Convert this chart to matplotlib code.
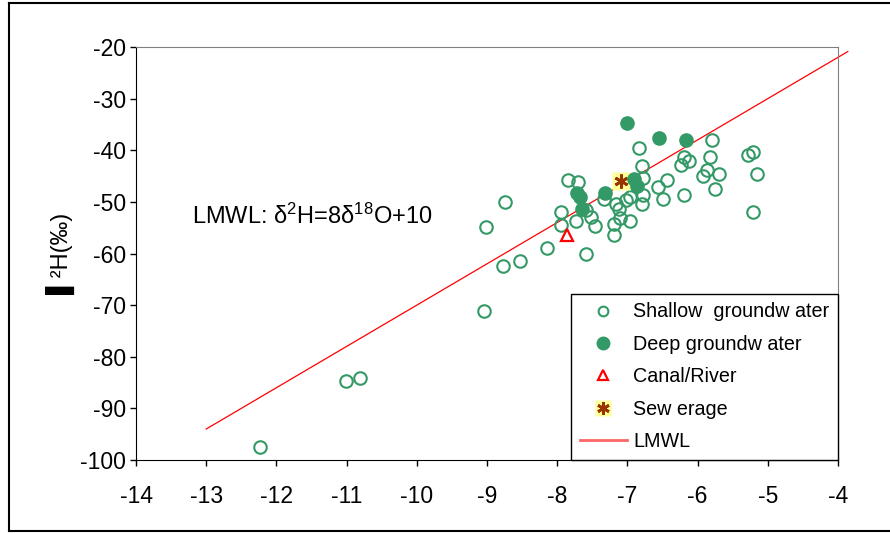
import matplotlib
matplotlib.use("Agg")
import matplotlib.pyplot as plt
from matplotlib.lines import Line2D

plt.rcParams["font.family"] = ["Liberation Sans", "DejaVu Sans"]
plt.rcParams["mathtext.fontset"] = "custom"
plt.rcParams["mathtext.rm"] = "Liberation Sans"
plt.rcParams["mathtext.it"] = "Liberation Sans:italic"
plt.rcParams["axes.unicode_minus"] = False

# delta 18O (x) and delta 2H (y), per mil
shallow_o = [-12.23, -11.01, -10.81, -9.04, -9.01, -8.75, -8.77, -8.53, -8.14,
             -7.94, -7.94, -7.85, -7.70, -7.73, -7.59, -7.52, -7.46, -7.59,
             -7.34, -7.16, -7.12, -7.11, -7.19, -7.19, -6.97, -7.02, -6.96,
             -6.78, -6.79, -6.78, -6.79, -6.84, -6.57, -6.44, -6.50, -6.20,
             -6.20, -6.23, -6.12, -5.93, -5.87, -5.82, -5.69, -5.75, -5.79,
             -5.28, -5.21, -5.15, -5.21]
shallow_h = [-97.5, -84.7, -84.1, -71.2, -54.9, -50.1, -62.4, -61.4, -58.9,
             -52.0, -54.5, -45.8, -46.1, -53.8, -51.5, -53.0, -54.6, -60.0,
             -49.4, -50.5, -51.4, -53.2, -54.2, -56.4, -53.7, -49.7, -49.0,
             -48.6, -50.5, -45.3, -43.1, -39.5, -47.1, -45.8, -49.4, -48.7,
             -41.3, -42.9, -42.1, -45.0, -43.9, -41.4, -44.6, -47.6, -38.1,
             -40.9, -40.3, -44.6, -52.0]

deep_o = [-7.00, -6.55, -6.17, -7.72, -7.67, -7.32, -7.64, -6.90, -6.87]
deep_h = [-34.8, -37.7, -38.1, -48.3, -49.1, -48.3, -51.4, -45.6, -47.0]

canal_o = [-7.86]
canal_h = [-56.4]

sewage_o = [-7.09]
sewage_h = [-45.9]

# local meteoric water line: d2H = 8 d18O + 10
lmwl_o = [-13.0, -3.86]
lmwl_h = [8 * v + 10 for v in lmwl_o]

green = "#339966"

fig = plt.figure(figsize=(8.9, 5.33), dpi=100)
ax = fig.add_axes([136 / 890, 73 / 533, 702 / 890, 413 / 533])

ax.plot(lmwl_o, lmwl_h, color="red", lw=0.9, clip_on=False, zorder=1)
ax.plot(shallow_o, shallow_h, ls="none", marker="o", ms=9, mfc="none",
        mec=green, mew=1.5, zorder=2)
ax.plot(canal_o, canal_h, ls="none", marker="^", ms=9, mfc="none",
        mec="red", mew=1.6, zorder=3)
ax.plot(sewage_o, sewage_h, ls="none", marker="s", ms=13, mfc="#FFFF99",
        mec="none", zorder=4)
ax.plot(sewage_o, sewage_h, ls="none", marker=(6, 2, 0), ms=10,
        mec="#993300", mew=2, zorder=5)
ax.plot(deep_o, deep_h, ls="none", marker="o", ms=9.5, mfc=green,
        mec=green, zorder=6)

ax.set_xlim(-14, -4)
ax.set_ylim(-100, -20)
ax.set_xticks(range(-14, -3))
ax.set_yticks(range(-100, -19, 10))
ax.tick_params(axis="both", direction="out", length=4, width=1,
               labelsize=16.5, color="black")
ax.tick_params(axis="x", pad=14)
ax.tick_params(axis="y", pad=3)
for side in ("left", "bottom"):
    ax.spines[side].set_color("black")
for side in ("top", "right"):
    ax.spines[side].set_color("#808080")

ax.set_ylabel("\u258c\u00b2H(\u2030)", fontsize=17, labelpad=4)

ax.text(-13.2, -52.7, "LMWL: \u03b4$^{2}$H=8\u03b4$^{18}$O+10", fontsize=17,
        va="center", ha="left")

handles = [
    Line2D([], [], ls="none", marker="o", ms=7, mfc="none", mec=green, mew=1.5),
    Line2D([], [], ls="none", marker="o", ms=9, mfc=green, mec=green),
    Line2D([], [], ls="none", marker="^", ms=7, mfc="none", mec="red", mew=1.6),
    (Line2D([], [], ls="none", marker="s", ms=11, mfc="#FFFF99", mec="none"),
     Line2D([], [], ls="none", marker=(6, 2, 0), ms=9, mec="#993300", mew=2)),
    Line2D([], [], color="#ff6666", lw=2),
]
labels = ["Shallow  groundw ater", "Deep groundw ater", "Canal/River",
          "Sew erage", "LMWL"]
leg = ax.legend(handles, labels, loc="lower right", bbox_to_anchor=(1, 0),
                borderaxespad=0, fontsize=14.2, frameon=True, fancybox=False,
                edgecolor="black", framealpha=1, handlelength=2.4,
                handletextpad=0.3, labelspacing=0.68, borderpad=0.45)
leg.get_frame().set_linewidth(1)

# outer frame around the chart area
frame_kw = dict(color="black", lw=1.5, transform=fig.transFigure)
fig.add_artist(Line2D([9 / 890, 9 / 890], [2 / 533, 530 / 533], **frame_kw))
fig.add_artist(Line2D([9 / 890, 1], [530 / 533, 530 / 533], **frame_kw))
fig.add_artist(Line2D([9 / 890, 1], [2 / 533, 2 / 533], **frame_kw))

fig.savefig("out.png", dpi=100)
